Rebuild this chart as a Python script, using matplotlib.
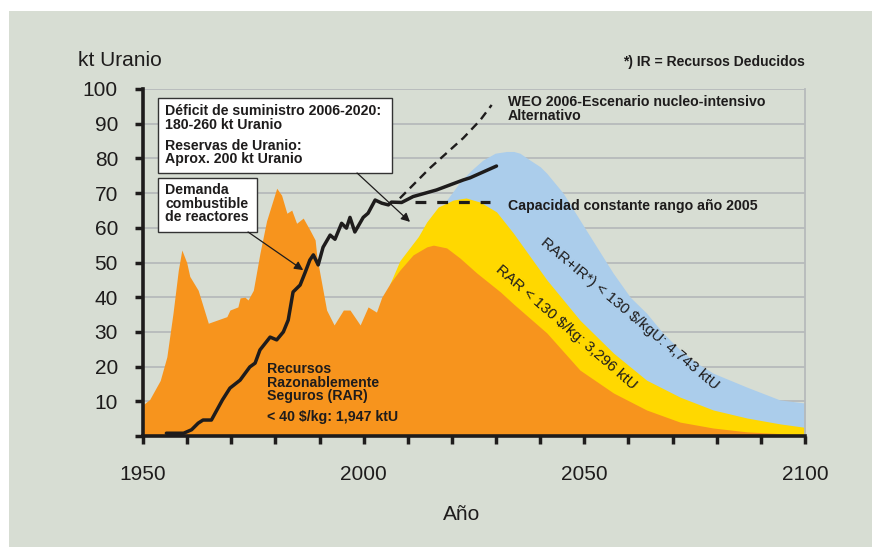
import matplotlib
matplotlib.use("Agg")
import matplotlib.pyplot as plt
from matplotlib.patches import Rectangle

# colours
bg = '#d7ddd3'
orange = '#f7941d'
yellow = '#ffd800'
blue = '#abcdeb'
grid_c = '#b6babb'

# historical production + RAR < 40 $/kg
orange_years = [1950, 1951.5, 1953.9, 1955.4, 1956.8, 1958, 1958.8, 1959.9, 1960.6, 1962.5, 1964.8,
                1969, 1969.7, 1971.5, 1972, 1973.1, 1973.8, 1975, 1976.5, 1978, 1980.3, 1981.4,
                1982.6, 1983.7, 1984.8, 1986.3, 1987.8, 1989, 1989.4, 1991.6, 1993.3, 1995.4,
                1996.9, 1999.2, 2001, 2002.9, 2004.1, 2006, 2008.2, 2011.2, 2014.3, 2015.8,
                2018.8, 2021.8, 2025.6, 2031, 2034, 2041.5, 2049, 2056.6, 2064.1, 2071.7,
                2079.2, 2086.8, 2100]
orange_vals = [9, 10.5, 16, 22.8, 35.4, 47.8, 53.6, 50, 46, 42, 32.5,
               34.4, 36.3, 37.2, 39.8, 40, 39.2, 42, 52.7, 62, 71.4, 69.4,
               64.2, 65.1, 61.3, 62.8, 59.4, 56.5, 51.6, 36.3, 32, 36.3,
               36.3, 32, 37.2, 35.7, 40, 44, 47.8, 52.2, 54.5, 55,
               54.2, 51.3, 47, 41.5, 38, 29.7, 19, 12.4, 7.5, 4,
               2.3, 1.2, 0.3]

# RAR < 130 $/kg
yellow_years = [2006, 2008.2, 2011.2, 2012.4, 2014.3, 2016.9, 2020.3, 2023.2, 2026.4, 2030.1,
                2033.9, 2041.5, 2049, 2056.6, 2064.1, 2071.7, 2079.2, 2086.8, 2094.3, 2100]
yellow_vals = [44, 50.5, 55.5, 57.5, 61.7, 66, 68, 68.6, 67.4, 64.6,
               58.5, 45, 33.4, 23.9, 16.1, 11.2, 7.5, 5.2, 3.5, 2.5]

# RAR + IR < 130 $/kgU
blue_years = [2018.5, 2020, 2022, 2024.5, 2027, 2029.8, 2032.4, 2034, 2035.4, 2037.7, 2040,
              2041.5, 2045.2, 2049, 2052.8, 2056.5, 2060.4, 2064.1, 2067.8, 2071.7, 2075.5,
              2079.2, 2086.8, 2094.3, 2100]
blue_vals = [67.5, 70, 73.5, 76.7, 79.5, 81.5, 82, 82, 81.5, 79.5, 77.6,
             75.7, 70, 62.2, 54.5, 47, 40, 35.4, 29.7, 24.8, 21,
             18.1, 14.1, 10.4, 9.5]

# reactor fuel demand
demand_years = [1955.3, 1959.2, 1961, 1962.5, 1963.6, 1965.5, 1968, 1969.7, 1972, 1974.2,
                1975.4, 1976.5, 1978.8, 1980.3, 1981.8, 1982.9, 1984, 1985.6, 1986.7, 1987.8,
                1988.6, 1989.7, 1990.8, 1992.4, 1993.5, 1995, 1996.1, 1996.9, 1998, 1999.9,
                2001, 2002.6, 2004.1, 2005.6, 2006.3, 2008.6, 2011.2, 2016.5, 2022.6, 2024.1,
                2030.1]
demand_vals = [0.8, 0.8, 1.8, 3.7, 4.6, 4.6, 10.4, 13.8, 16.1, 19.9,
               21, 24.8, 28.5, 27.7, 30, 33.4, 41.5, 43.5, 47, 50.7,
               52.2, 49.3, 54.4, 57.9, 56.7, 61.3, 59.9, 63, 58.8, 63,
               64.2, 68, 67.1, 66.6, 67.4, 67.3, 69, 70.9, 73.8, 74.4,
               77.8]

weo_years = [2008.2, 2015, 2022.6, 2026.4, 2029]
weo_vals = [68.5, 77.2, 85.9, 91, 95.4]

const_years = [2011.6, 2028.6]
const_vals = [67.4, 67.4]

x_ticks = list(range(1950, 2101, 10))
y_ticks = list(range(0, 101, 10))

narrow = ['Liberation Sans Narrow', 'Liberation Sans', 'DejaVu Sans']
plain = ['Liberation Sans', 'DejaVu Sans']
ink = '#1e1c1c'

fig = plt.figure(figsize=(8.72, 5.47), dpi=100)
fig.patch.set_facecolor('white')
fig.patches.append(Rectangle((9 / 872, 0), 1, 536 / 547, transform=fig.transFigure,
                             facecolor=bg, edgecolor='none', zorder=-10))

ax = fig.add_axes([143 / 872, 1 - 436 / 547, (805 - 143) / 872, (436 - 89) / 547])
ax.set_facecolor(bg)
ax.set_xlim(1950, 2100)
ax.set_ylim(0, 100)

ax.fill_between(blue_years, blue_vals, 0, color=blue, lw=0, zorder=1)
ax.fill_between(yellow_years, yellow_vals, 0, color=yellow, lw=0, zorder=2)
ax.fill_between(orange_years, orange_vals, 0, color=orange, lw=0, zorder=3)

ax.plot(weo_years, weo_vals, color=ink, lw=1.7, dashes=(3.6, 2.4), zorder=5)
ax.plot(const_years, const_vals, color=ink, lw=2.3, dashes=(3.4, 3.4), zorder=5)
ax.plot(demand_years, demand_vals, color=ink, lw=2.5, solid_joinstyle='round',
        solid_capstyle='round', zorder=6)

# axes styling
ax.set_xticks(x_ticks)
ax.set_xticklabels([str(t) if t % 50 == 0 else '' for t in x_ticks])
ax.set_yticks(y_ticks)
ax.set_yticklabels([str(t) if t > 0 else '' for t in y_ticks])
ax.tick_params(axis='both', direction='out', length=6, width=2.5, color=ink,
               labelsize=15, labelcolor=ink)
ax.tick_params(axis='x', pad=15)
ax.tick_params(axis='y', pad=12)
for lab in ax.get_xticklabels() + ax.get_yticklabels():
    lab.set_family(plain)
ax.yaxis.grid(True, color=grid_c, lw=1.3)
ax.set_axisbelow(True)
ax.spines['top'].set_visible(False)
ax.spines['right'].set_color(grid_c)
ax.spines['right'].set_linewidth(1.3)
for s in ['left', 'bottom']:
    ax.spines[s].set_color(ink)
    ax.spines[s].set_linewidth(2.6)
    ax.spines[s].set_zorder(7)

fig.text(78 / 872, 1 - 60 / 547, 'kt Uranio', fontsize=15, family=plain, va='center',
         ha='left', color=ink)
fig.text(462 / 872, 1 - 514 / 547, 'Año', fontsize=15, family=plain, va='center',
         ha='center', color=ink)
fig.text(805 / 872, 1 - 62 / 547, '*) IR = Recursos Deducidos', fontsize=10, family=narrow,
         fontweight='bold', va='center', ha='right', color=ink)

# annotation boxes
ax.add_patch(Rectangle((1953.4, 75.8), 2006.4 - 1953.4, 97.4 - 75.8, facecolor='white',
                       edgecolor='#333333', lw=1, zorder=8, clip_on=False))
ax.text(1955, 91.6, 'Déficit de suministro 2006-2020:\n180-260 kt Uranio', fontsize=10.2,
        family=narrow, fontweight='bold', va='center', ha='left', linespacing=0.95, zorder=9,
        color=ink)
ax.text(1955, 81.7, 'Reservas de Uranio:\nAprox. 200 kt Uranio', fontsize=10.2,
        family=narrow, fontweight='bold', va='center', ha='left', linespacing=0.95, zorder=9,
        color=ink)

ax.add_patch(Rectangle((1953.4, 58.8), 1975.8 - 1953.4, 74.4 - 58.8, facecolor='white',
                       edgecolor='#333333', lw=1, zorder=8))
ax.text(1955, 66.9, 'Demanda\ncombustible\nde reactores', fontsize=10.2, family=narrow,
        fontweight='bold', va='center', ha='left', linespacing=0.95, zorder=9, color=ink)

ax.annotate('', xy=(1986.3, 47.8), xytext=(1973.8, 58.8),
            arrowprops=dict(arrowstyle='-|>', lw=0.9, color=ink, mutation_scale=13,
                            shrinkA=0, shrinkB=0), zorder=9)
ax.annotate('', xy=(2010.5, 61.7), xytext=(1998.5, 75.8),
            arrowprops=dict(arrowstyle='-|>', lw=0.9, color=ink, mutation_scale=13,
                            shrinkA=0, shrinkB=0), zorder=9)

ax.text(2032.7, 94.2, 'WEO 2006-Escenario nucleo-intensivo\nAlternativo', fontsize=10.2,
        family=narrow, fontweight='bold', va='center', ha='left', linespacing=0.95, zorder=9,
        color=ink)
ax.text(2032.7, 66.4, 'Capacidad constante rango año 2005', fontsize=10.2, family=narrow,
        fontweight='bold', va='center', ha='left', zorder=9, color=ink)

ax.text(1978.1, 15.3, 'Recursos\nRazonablemente\nSeguros (RAR)', fontsize=10.2, family=narrow,
        fontweight='bold', va='center', ha='left', linespacing=0.95, zorder=9, color=ink)
ax.text(1978.1, 5.5, '< 40 $/kg: 1,947 ktU', fontsize=10.2, family=narrow,
        fontweight='bold', va='center', ha='left', zorder=9, color=ink)

ax.text(2060.4, 35.2, 'RAR+IR*) < 130 $/kgU: 4,743 ktU', fontsize=11, family=narrow,
        rotation=-40, rotation_mode='anchor', va='center', ha='center', zorder=9, color=ink)
ax.text(2045.9, 31.4, 'RAR < 130 $/kg: 3,296 ktU', fontsize=11, family=narrow,
        rotation=-41, rotation_mode='anchor', va='center', ha='center', zorder=9, color=ink)

fig.savefig('out.png', dpi=100, facecolor=fig.get_facecolor())
